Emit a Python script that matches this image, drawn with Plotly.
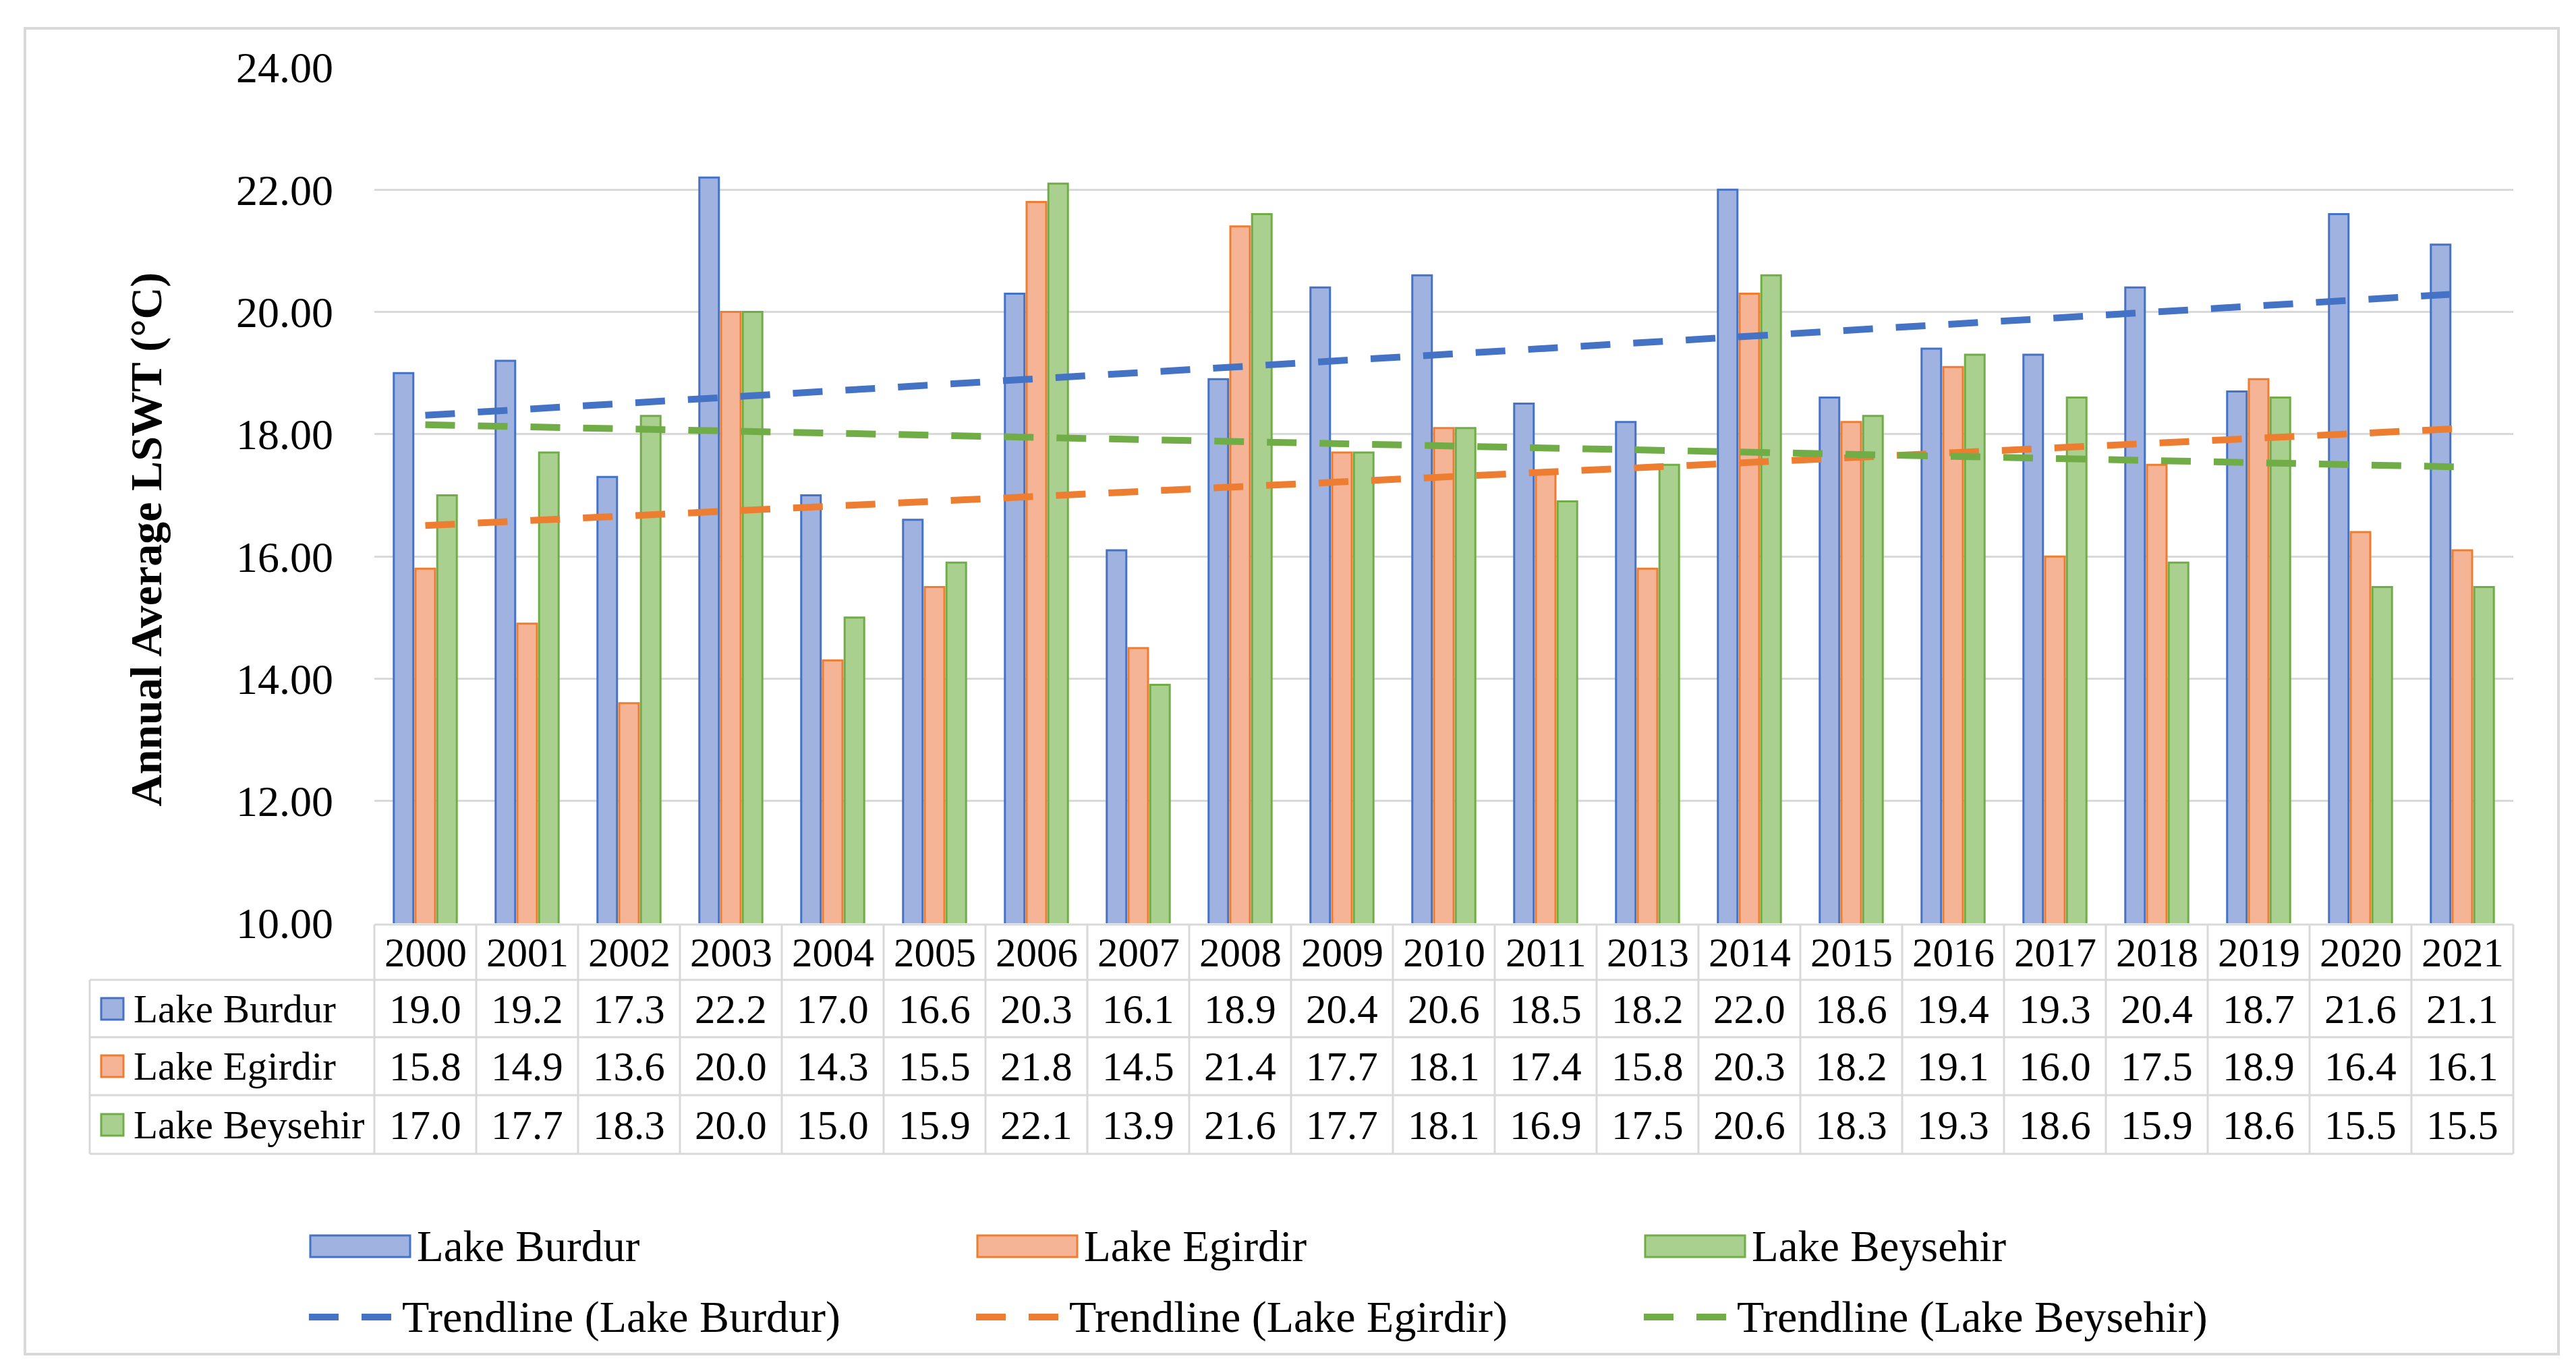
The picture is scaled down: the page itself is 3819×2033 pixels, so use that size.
import numpy as np
import plotly.graph_objects as go

# ---------------- data ----------------
years = ["2000", "2001", "2002", "2003", "2004", "2005", "2006", "2007", "2008", "2009",
         "2010", "2011", "2013", "2014", "2015", "2016", "2017", "2018", "2019", "2020", "2021"]
burdur = [19.0, 19.2, 17.3, 22.2, 17.0, 16.6, 20.3, 16.1, 18.9, 20.4,
          20.6, 18.5, 18.2, 22.0, 18.6, 19.4, 19.3, 20.4, 18.7, 21.6, 21.1]
egirdir = [15.8, 14.9, 13.6, 20.0, 14.3, 15.5, 21.8, 14.5, 21.4, 17.7,
           18.1, 17.4, 15.8, 20.3, 18.2, 19.1, 16.0, 17.5, 18.9, 16.4, 16.1]
beysehir = [17.0, 17.7, 18.3, 20.0, 15.0, 15.9, 22.1, 13.9, 21.6, 17.7,
            18.1, 16.9, 17.5, 20.6, 18.3, 19.3, 18.6, 15.9, 18.6, 15.5, 15.5]
series_names = ["Lake Burdur", "Lake Egirdir", "Lake Beysehir"]
trend_names = ["Trendline (Lake Burdur)", "Trendline (Lake Egirdir)", "Trendline (Lake Beysehir)"]
y_ticks = [10, 12, 14, 16, 18, 20, 22, 24]
y_title = "Annual Average LSWT (°C)"

# ---------------- style ----------------
fills = ["#9FB2E0", "#F5B496", "#A9D08F"]
edges = ["#4472C4", "#ED7D31", "#70AD47"]
FONT = "Liberation Serif, DejaVu Serif, serif"
GRID = "#D9D9D9"

W, H = 3819, 2033
L, R, T, B = 547, 3718, 92, 1361


def px(x):
    return (x - L) / (R - L)


def py(y):
    return (B - y) / (B - T)


all_series = [burdur, egirdir, beysehir]
n = len(years)
idx = np.arange(1, n + 1)


def cat_center(i):
    # paper x of the centre of category i (x axis spans [-0.5, n-0.5])
    return (i + 0.5) / n


fig = go.Figure()
for name, vals, fc, ec in zip(series_names, all_series, fills, edges):
    fig.add_trace(go.Bar(x=years, y=vals, name=name,
                         marker=dict(color=fc, line=dict(color=ec, width=3)),
                         showlegend=False))

for name, vals, ec in zip(trend_names, all_series, edges):
    coef = np.polyfit(idx, np.array(vals), 1)
    trend = np.polyval(coef, idx)
    fig.add_trace(go.Scatter(x=years, y=trend, mode="lines", name=name,
                             line=dict(color=ec, width=10, dash="44px,34px"),
                             showlegend=False))

shapes = []
annotations = []

# outer border
shapes.append(dict(type="rect", xref="paper", yref="paper",
                   x0=px(29), x1=px(3785), y0=py(34), y1=py(2000),
                   line=dict(color=GRID, width=4), layer="below"))

# ---- data table ----
tbl_top, hdr_bot = 1363, 1445
row_bounds = [1445, 1530, 1616, 1703]
row_centers = [1488, 1573, 1660]
tbl_left = 125
lw = 3
shapes.append(dict(type="line", xref="paper", yref="paper", x0=0, x1=1,
                   y0=py(tbl_top), y1=py(tbl_top), line=dict(color=GRID, width=lw)))
for yb in row_bounds:
    shapes.append(dict(type="line", xref="paper", yref="paper", x0=px(tbl_left), x1=1,
                       y0=py(yb), y1=py(yb), line=dict(color=GRID, width=lw)))
for i in range(n + 1):
    shapes.append(dict(type="line", xref="paper", yref="paper", x0=i / n, x1=i / n,
                       y0=py(tbl_top), y1=py(row_bounds[-1]), line=dict(color=GRID, width=lw)))
shapes.append(dict(type="line", xref="paper", yref="paper", x0=px(tbl_left), x1=px(tbl_left),
                   y0=py(hdr_bot), y1=py(row_bounds[-1]), line=dict(color=GRID, width=lw)))

TF = 61
for i, yr in enumerate(years):
    annotations.append(dict(x=cat_center(i), xref="paper", y=py(1404), yref="paper", text=yr,
                            showarrow=False, xanchor="center", yanchor="middle",
                            font=dict(family=FONT, size=TF, color="black")))
for name, vals, fc, ec, yc in zip(series_names, all_series, fills, edges, row_centers):
    shapes.append(dict(type="rect", xref="paper", yref="paper",
                       x0=px(142), x1=px(175), y0=py(yc - 16), y1=py(yc + 16),
                       fillcolor=fc, line=dict(color=ec, width=3)))
    annotations.append(dict(x=px(188), xref="paper", y=py(yc), yref="paper", text=name,
                            showarrow=False, xanchor="left", yanchor="middle",
                            font=dict(family=FONT, size=59, color="black")))
    for i, v in enumerate(vals):
        annotations.append(dict(x=cat_center(i), xref="paper", y=py(yc), yref="paper",
                                text=f"{v:.1f}",
                                showarrow=False, xanchor="center", yanchor="middle",
                                font=dict(family=FONT, size=TF, color="black")))

# ---- legend ----
LF = 65
key_x = [452, 1441, 2431]
row1, row2 = 1840, 1945
for k, (name, tname, fc, ec) in enumerate(zip(series_names, trend_names, fills, edges)):
    x0 = key_x[k]
    shapes.append(dict(type="rect", xref="paper", yref="paper",
                       x0=px(x0), x1=px(x0 + 148), y0=py(row1 - 16), y1=py(row1 + 16),
                       fillcolor=fc, line=dict(color=ec, width=3)))
    annotations.append(dict(x=px(x0 + 156), xref="paper", y=py(row1), yref="paper", text=name,
                            showarrow=False, xanchor="left", yanchor="middle",
                            font=dict(family=FONT, size=LF, color="black")))
    shapes.append(dict(type="line", xref="paper", yref="paper",
                       x0=px(x0 - 2), x1=px(x0 + 120), y0=py(row2), y1=py(row2),
                       line=dict(color=ec, width=10, dash="44px,34px")))
    annotations.append(dict(x=px(x0 + 134), xref="paper", y=py(row2), yref="paper", text=tname,
                            showarrow=False, xanchor="left", yanchor="middle",
                            font=dict(family=FONT, size=LF + 1, color="black")))

# y-axis title
annotations.append(dict(x=px(209), xref="paper", y=py(792), yref="paper", text=f"<b>{y_title}</b>",
                        textangle=-90, showarrow=False, xanchor="center", yanchor="middle",
                        font=dict(family=FONT, size=66, color="black")))

fig.update_layout(
    width=W, height=H,
    margin=dict(l=L, r=W - R, t=T, b=H - B, autoexpand=False),
    paper_bgcolor="white", plot_bgcolor="white",
    barmode="group", bargap=0.36, bargroupgap=0.1,
    shapes=shapes, annotations=annotations,
    showlegend=False,
    xaxis=dict(type="category", range=[-0.5, n - 0.5], showticklabels=False,
               showgrid=False, zeroline=False, showline=False, ticks=""),
    yaxis=dict(range=[10, 24], tickvals=y_ticks, tickformat=".2f",
               showgrid=True, gridcolor=GRID, gridwidth=3, zeroline=False, showline=False,
               ticks="", ticklabelstandoff=60,
               tickfont=dict(family=FONT, size=64, color="black")),
)

fig.write_html("out.html")
